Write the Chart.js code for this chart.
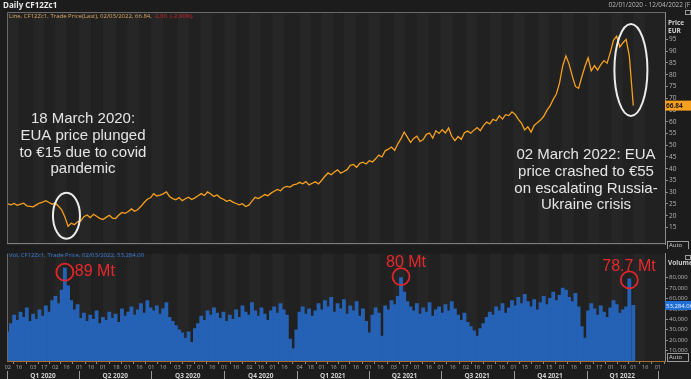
<!DOCTYPE html>
<html><head><meta charset="utf-8">
<script src="https://cdn.jsdelivr.net/npm/chart.js@4.4.0/dist/chart.umd.min.js"></script>
<style>
html,body{margin:0;padding:0;background:#1c1c1c;width:691px;height:379px;overflow:hidden}
#wrap{position:relative;width:691px;height:379px}
canvas{position:absolute;left:0}
#c1{top:0;width:691px;height:249px}
#c2{top:249px;width:691px;height:130px}
</style></head><body>
<div id="wrap"><canvas id="c1" width="691" height="249"></canvas><canvas id="c2" width="691" height="130"></canvas></div>
<script>
// ---- DATA (x = days since 1 Jan 2020) ----
const sampleDays = [
1,5,9,13,17,21,25,29,33,37,41,45,49,53,57,61,65,69,73,77,81,85,89,93,97,101,105,109,113,117,121,125,129,133,137,141,145,149,153,157,161,165,169,173,177,181,185,189,193,197,201,205,209,213,217,221,225,229,233,237,241,245,249,253,257,261,265,269,273,277,281,285,289,293,297,301,305,309,313,317,321,325,329,333,337,341,345,349,353,357,361,365,
369,373,377,381,385,389,393,397,401,405,409,413,417,421,425,429,433,437,441,445,449,453,457,461,465,469,473,477,481,485,489,493,497,501,505,509,513,517,521,525,529,533,537,541,545,549,553,557,561,565,569,573,577,581,585,589,593,597,601,605,609,613,617,621,625,629,633,637,641,645,649,653,657,661,665,669,673,677,681,685,689,693,697,701,705,709,713,717,721,725,729,
733,737,741,745,749,753,757,761,765,769,773,777,781,785,790];

const prices = [
25.0,24.6,25.2,24.4,24.9,25.3,24.2,24.0,
23.8,24.6,25.4,25.8,26.4,25.6,24.9,
25.4,24.0,22.5,19.5,15.5,16.8,16.2,17.4,
17.8,19.6,20.3,19.2,20.6,19.8,18.9,
18.4,19.3,20.2,19.0,18.8,20.3,21.4,21.0,
21.8,22.9,21.9,22.6,24.0,25.6,27.0,27.6,
29.4,28.4,28.8,29.3,30.1,28.2,27.3,
26.8,27.7,26.4,27.2,27.9,26.9,27.6,28.5,
29.4,28.6,30.1,29.2,28.2,28.8,27.6,27.0,
26.1,26.6,25.8,25.2,24.6,25.1,23.9,
24.5,26.2,27.8,27.3,28.1,29.0,28.5,29.6,
30.4,31.2,30.6,32.0,32.5,32.2,33.1,33.4,
34.2,33.6,34.5,33.1,33.8,34.4,33.5,
35.1,36.8,38.2,37.4,38.6,39.5,38.1,
38.8,39.6,41.4,41.8,40.6,42.3,42.8,42.0,
43.4,42.9,44.2,45.8,45.0,47.6,48.3,49.2,
47.8,50.6,52.8,55.6,53.4,51.2,52.9,
53.8,51.6,52.4,54.6,55.2,53.0,56.1,55.0,
56.6,55.2,57.3,53.8,51.9,53.7,52.5,55.3,
56.0,55.1,56.4,57.5,56.2,58.3,59.8,
59.1,61.0,60.4,62.5,61.1,63.0,62.6,64.2,
63.1,61.0,59.4,56.5,57.8,55.6,58.4,59.6,
60.7,62.3,64.8,66.7,69.5,71.8,76.5,
83.8,88.0,84.5,79.5,75.0,74.2,79.0,83.5,
87.2,81.6,83.8,82.0,84.3,86.0,84.9,89.5,94.6,96.4,91.8,93.6,95.0,88.0,66.84];

// volume in thousands of lots
const volumesK = [
28,36,44,39,47,42,51,38,
45,40,49,43,53,47,58,
62,55,68,89,72,58,49,54,
41,46,38,44,40,48,36,
42,39,47,41,45,37,50,43,
47,52,44,49,55,46,58,51,
48,53,45,50,56,42,38,
34,30,27,22,28,18,31,36,
43,39,48,44,51,46,41,47,
38,44,40,49,42,53,47,
44,56,48,43,51,45,39,48,
52,46,55,49,44,21,12,30,
47,52,45,50,43,48,55,
49,58,52,61,47,55,50,
59,45,53,48,57,43,50,38,
27,44,51,46,24,53,49,58,
54,62,80,66,57,52,48,
55,45,51,47,56,43,49,52,
46,54,48,57,50,44,39,46,
37,33,29,24,31,36,42,
47,44,52,48,55,46,51,58,
53,61,55,64,57,52,59,49,
56,62,54,60,66,58,63,
70,68,61,57,65,52,33,22,
48,55,50,44,53,47,42,51,58,54,46,49,52,78.7,53.284];

const dayTicks = [1,15,33,47,61,75,91,106,121,138,152,167,182,197,215,229,244,259,274,289,306,320,335,350,
369,383,397,412,425,440,456,471,488,502,517,532,547,562,579,593,609,624,639,653,670,684,700,715,
733,747,762,777,790,805,821];
const dayTickLabels = ['02','16','03','17','02','16','01','16','01','18','01','16','01','16','03','17','01','16','01','16','02','16','01','16',
'04','18','01','16','01','16','01','16','03','17','01','16','01','16','02','16','01','16','01','15','01','15','01','16',
'03','17','01','16','01','16','01'];
const quarterStarts = [0,91,182,274,366,456,547,639,731,821];
const quarterLabels = ['Q1 2020','Q2 2020','Q3 2020','Q4 2020','Q1 2021','Q2 2021','Q3 2021','Q4 2021','Q1 2022'];
const priceTicks = [15,20,25,30,35,40,45,50,55,60,65,70,75,80,85,90,95];
const volumeTicksK = [10,20,30,40,50,60,70,80];
const lastPrice = 66.84;
const lastVolumeK = 53.284;

// ---- STYLE ----
const X_MIN = 0, X_MAX = 830;
const SMALL = '"Open Sans", "DejaVu Sans", sans-serif';
const ARIAL = '"Liberation Sans", Arial, sans-serif';

function bands(chart){
  const {ctx, chartArea:a, scales:{x}} = chart;
  ctx.save();
  ctx.fillStyle = '#1c1c1c';
  ctx.fillRect(0,0,chart.width,chart.height);
  ctx.fillStyle = '#212121';
  ctx.fillRect(a.left,a.top,a.right-a.left,a.bottom-a.top);
  ctx.fillStyle = '#262626';
  for (let i=0;i<dayTicks.length-1;i+=2){
    const x0 = x.getPixelForValue(dayTicks[i]), x1 = x.getPixelForValue(dayTicks[i+1]);
    ctx.fillRect(x0,a.top,x1-x0,a.bottom-a.top);
  }
  ctx.restore();
}
const bgPlugin = {id:'bg', beforeDraw: bands};

const topPlugin = {
  id:'topAnnot',
  afterDraw(chart){
    const {ctx, chartArea:a, scales:{x,y}} = chart;
    ctx.save();
    ctx.strokeStyle = '#6a6a6a'; ctx.lineWidth = 1;
    ctx.beginPath(); ctx.moveTo(a.left+0.5,a.bottom); ctx.lineTo(a.left+0.5,a.top+0.5); ctx.lineTo(a.right,a.top+0.5); ctx.stroke();
    ctx.strokeStyle = '#8a8a8a';
    ctx.beginPath(); ctx.moveTo(a.left,a.bottom-0.5); ctx.lineTo(a.right,a.bottom-0.5); ctx.stroke();
    ctx.textBaseline='middle'; ctx.textAlign='left';
    ctx.fillStyle='#e8e8e8'; ctx.font='bold 8px '+SMALL;
    ctx.fillText('Daily CF12Zc1',3,5.5);
    ctx.fillStyle='#b8b8b8'; ctx.font='6.5px '+SMALL; ctx.textAlign='right';
    ctx.fillText('02/01/2020 - 12/04/2022 (F',690,5.5);
    ctx.textAlign='left'; ctx.font='6px '+SMALL;
    const leg = 'Line, CF12Zc1, Trade Price(Last), 02/03/2022, 66.84, ';
    ctx.fillStyle='#e0a860'; ctx.fillText(leg,9,16.5);
    const w = ctx.measureText(leg).width;
    ctx.fillStyle='#d02828'; ctx.fillText('-2.00, (-2.90%)',9+w,16.5);
    ctx.fillStyle='#d0d0d0'; ctx.font='bold 6.5px '+SMALL;
    ctx.fillText('Price',668,23); ctx.fillText('EUR',668,31);
    ctx.strokeStyle='#9a9a9a'; ctx.strokeRect(685.5,10.5,5,4);
    ctx.strokeStyle='#9a9a9a'; ctx.strokeRect(667.5,241.5,21,8);
    ctx.fillStyle='#d0d0d0'; ctx.font='6px '+SMALL; ctx.fillText('Auto',669,245.5);
    const py = y.getPixelForValue(lastPrice);
    ctx.fillStyle='#f5a01e'; ctx.fillRect(665,py-5,26,10);
    ctx.fillStyle='#1a1a1a'; ctx.font='bold 6.5px '+SMALL; ctx.fillText(lastPrice.toFixed(2),666,py+0.5);
    ctx.strokeStyle='#ececec'; ctx.lineWidth=2;
    ctx.beginPath(); ctx.ellipse(x.getPixelForValue(75), y.getPixelForValue(20), 13.5, 23, 0, 0, Math.PI*2); ctx.stroke();
    ctx.beginPath(); ctx.ellipse(x.getPixelForValue(787), y.getPixelForValue(82), 16.5, 46, 0, 0, Math.PI*2); ctx.stroke();
    ctx.fillStyle='#e4e4e4'; ctx.font='15px '+ARIAL; ctx.textAlign='center';
    ['18 March 2020:','EUA price plunged','to €15 due to covid','pandemic'].forEach((t,i)=>ctx.fillText(t,83,119+i*16.7));
    ['02 March 2022: EUA','price crashed to €55','on escalating Russia-','Ukraine crisis'].forEach((t,i)=>ctx.fillText(t,586,155+i*16.7));
    ctx.restore();
  }
};

const botPlugin = {
  id:'botAnnot',
  afterDraw(chart){
    const {ctx, chartArea:a, scales:{x,y}} = chart;
    ctx.save();
    ctx.strokeStyle='#6a6a6a'; ctx.lineWidth=1;
    ctx.beginPath(); ctx.moveTo(a.left+0.5,a.top); ctx.lineTo(a.left+0.5,a.bottom); ctx.stroke();
    ctx.textBaseline='middle'; ctx.textAlign='left';
    ctx.fillStyle='#3c7ede'; ctx.font='6px '+SMALL;
    ctx.fillText('Vol, CF12Zc1, Trade Price, 02/03/2022, 53,284.00',9,6.5);
    ctx.fillStyle='#d0d0d0'; ctx.font='bold 6.5px '+SMALL;
    ctx.fillText('Volume',668,14);
    ctx.strokeStyle='#9a9a9a'; ctx.strokeRect(685.5,6.5,5,4);
    ctx.strokeRect(667.5,104.5,21,8);
    ctx.font='6px '+SMALL; ctx.fillText('Auto',669,108.5);
    const vy = y.getPixelForValue(lastVolumeK);
    ctx.fillStyle='#1f6fd6'; ctx.fillRect(665,vy-4.5,26,9);
    ctx.fillStyle='#e8f0ff'; ctx.font='6px '+SMALL; ctx.fillText('53,284.00',666,vy+0.5);
    ctx.strokeStyle='#9a9a9a'; ctx.lineWidth=1;
    ctx.fillStyle='#cfcfcf'; ctx.font='bold 6.5px '+SMALL; ctx.textAlign='center';
    for (let i=0;i<quarterStarts.length;i++){
      const px = Math.round(x.getPixelForValue(quarterStarts[i]))+0.5;
      ctx.beginPath(); ctx.moveTo(px,122); ctx.lineTo(px,130); ctx.stroke();
      if (i<quarterLabels.length){
        const cx = (x.getPixelForValue(quarterStarts[i])+x.getPixelForValue(quarterStarts[i+1]))/2;
        ctx.fillText(quarterLabels[i],cx,127);
      }
    }
    ctx.strokeStyle='#e0262a'; ctx.lineWidth=1.8; ctx.fillStyle='#e8282c'; ctx.font='16px '+ARIAL; ctx.textAlign='left';
    // [day, value, label, circle dy, text dx, text dy]
    const marks = [[73,89,'89 Mt',4,10,-1],[497,80,'80 Mt',-1,-15,-14],[785,78.7,'78.7 Mt',1,-27,-13]];
    marks.forEach(([d,v,t,cdy,dx,dy])=>{
      const cx = x.getPixelForValue(d), cy = y.getPixelForValue(v)+cdy;
      ctx.beginPath(); ctx.arc(cx,cy,8.5,0,Math.PI*2); ctx.stroke();
      ctx.fillText(t,cx+dx,cy+dy);
    });
    ctx.restore();
  }
};

new Chart(document.getElementById('c1'), {
  type:'line',
  data:{datasets:[{data:sampleDays.map((d,i)=>({x:d,y:prices[i]})), borderColor:'#f5a01e', borderWidth:1.3, pointRadius:0, tension:0}]},
  options:{
    responsive:false, animation:false,
    layout:{padding:{left:7,top:12,right:0,bottom:0}},
    plugins:{legend:{display:false}, tooltip:{enabled:false}},
    scales:{
      x:{type:'linear', min:X_MIN, max:X_MAX, display:false},
      y:{position:'right', min:7.92, max:106.67,
         afterFit(s){s.width=26;},
         afterBuildTicks(s){s.ticks = priceTicks.map(v=>({value:v}));},
         grid:{drawOnChartArea:false, drawTicks:true, tickLength:3, color:'#8a8a8a'},
         border:{color:'#8a8a8a'},
         ticks:{color:'#b4b4b4', font:{size:6.5, family:SMALL}, padding:1}}
    }
  },
  plugins:[bgPlugin, topPlugin]
});

new Chart(document.getElementById('c2'), {
  type:'bar',
  data:{datasets:[{data:sampleDays.map((d,i)=>({x:d,y:volumesK[i]})), backgroundColor:'#2562b6', borderWidth:0, barPercentage:1, categoryPercentage:1}]},
  options:{
    responsive:false, animation:false,
    layout:{padding:{left:7,top:0,right:0,bottom:0}},
    plugins:{legend:{display:false}, tooltip:{enabled:false}},
    scales:{
      x:{type:'linear', min:X_MIN, max:X_MAX, offset:false,
         afterFit(s){s.height=18;},
         afterBuildTicks(s){s.ticks = dayTicks.map(v=>({value:v}));},
         grid:{drawOnChartArea:false, drawTicks:true, tickLength:3, color:'#8a8a8a'},
         border:{color:'#a8702c', width:1},
         ticks:{color:'#a8a8a8', font:{size:5.5, family:SMALL}, padding:0, maxRotation:0, autoSkip:false,
                callback:(v,i)=>dayTickLabels[i]}},
      y:{position:'right', min:0, max:103,
         afterFit(s){s.width=26;},
         afterBuildTicks(s){s.ticks = volumeTicksK.map(v=>({value:v}));},
         grid:{drawOnChartArea:false, drawTicks:true, tickLength:3, color:'#8a8a8a'},
         border:{color:'#8a8a8a'},
         ticks:{color:'#b4b4b4', font:{size:6, family:SMALL}, padding:1,
                callback:v=>(v*1000).toLocaleString('en-US')}}
    }
  },
  plugins:[bgPlugin, botPlugin]
});
</script>
</body></html>
